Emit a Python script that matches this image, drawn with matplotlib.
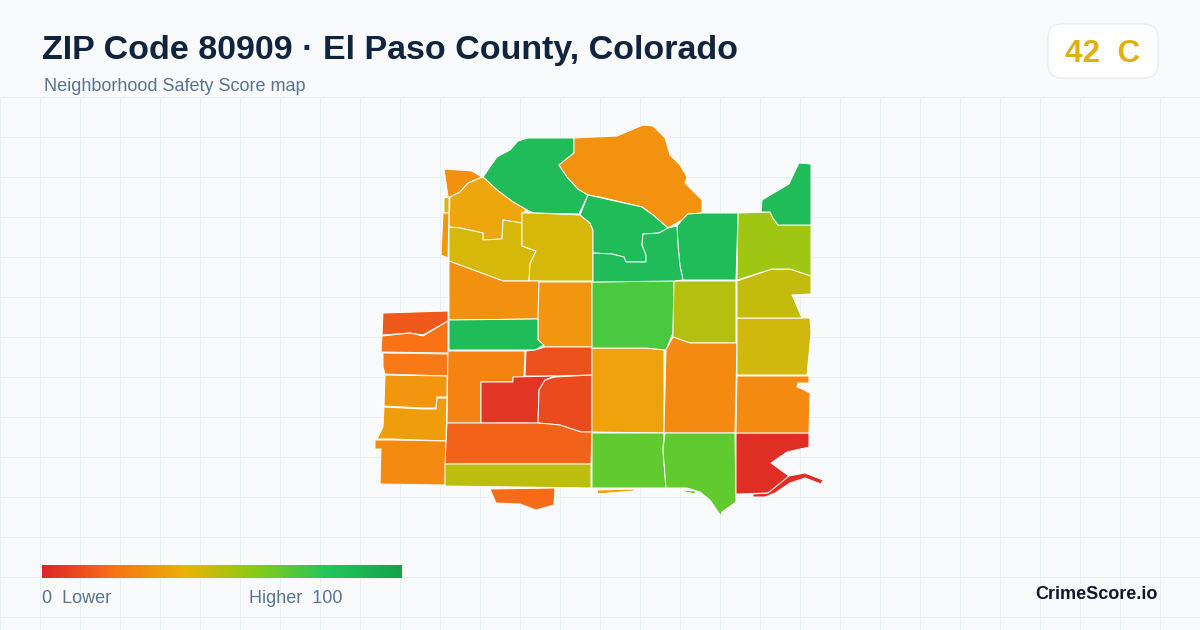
import numpy as np
import matplotlib
matplotlib.use("Agg")
import matplotlib.pyplot as plt
from matplotlib.colors import LinearSegmentedColormap
from matplotlib.patches import Polygon, FancyBboxPatch

plt.rcParams['font.family'] = ['Liberation Sans', 'DejaVu Sans']

TITLE = "ZIP Code 80909 · El Paso County, Colorado"
SUBTITLE = "Neighborhood Safety Score map"
BADGE = "42  C"
BRAND = "CrimeScore.io"
LEGEND_LOW = "0  Lower"
LEGEND_HIGH = "Higher  100"

RAMP_STOPS = [0.0, 0.2, 0.4, 0.6, 0.8, 1.0]
RAMP_COLORS = ["#dc2626", "#f97316", "#eab308", "#84cc16", "#22c55e", "#16a34a"]

# Neighbourhood safety scores
SCORES = {
    "a": 85, "b": 30, "c": 29, "d": 36, "e": 44, "f": 31, "g": 44, "h": 44, "i": 29,
    "j": 31, "k": 85, "l": 13.5, "m": 20, "n": 22, "o": 31, "p": 33, "q": 27, "r": 25,
    "s": 11, "t": 4, "u": 9.5, "v": 16, "w": 49, "x": 18, "y": 35, "z": 71.5, "aa": 50.5,
    "ab": 27, "ac": 67, "ad": 67, "ae": 2.6, "af": 2.6, "ag": 35, "ah": 67, "ai": 27,
    "aj": 45, "ak": 47.5, "al": 55, "am": 85, "an": 85, "ao": 85, "ap": 85,
}

# Neighbourhood outlines (x, y in image pixels)
OUTLINES = {
    "a": [(483,177),(497,157),(510,150),(518,141),(528,138),(574,138),(574,153),(559,165),(567,177),(578,189),(588,195),(579,214),(533,213),(527,210),(513,202),(497,190)],
    "b": [(574,138),(617,136),(643,125),(653,126),(665,138),(670,155),(680,165),(687,177),(685,183),(702,200),(702,213),(688,214),(682,220),(668,228),(653,215),(642,207),(600,197),(588,195),(578,189),(567,177),(559,165),(574,153)],
    "c": [(444,169),(472,171),(482,177),(468,183),(460,192),(450,197),(448,197)],
    "d": [(450,197),(460,192),(468,183),(483,177),(497,190),(513,202),(527,210),(522,213),(522,223),(503,220),(502,239),(483,240),(483,233),(460,228),(449,227)],
    "e": [(444,198),(449,197),(449,213),(444,213)],
    "f": [(443,213),(449,213),(448,258),(441,255)],
    "g": [(449,227),(460,228),(483,233),(483,240),(502,239),(503,220),(522,223),(522,246),(536,251),(530,264),(529,281),(503,281),(449,261)],
    "h": [(522,213),(533,213),(580,215),(590,223),(593,230),(593,281),(529,281),(530,264),(536,251),(522,246)],
    "i": [(449,261),(503,281),(539,281),(538,319),(449,320)],
    "j": [(539,282),(592,282),(592,347),(545,347),(538,340),(538,319)],
    "k": [(449,320),(538,319),(538,340),(544,345),(535,350),(449,350)],
    "l": [(383,313),(448,311),(448,321),(423,335),(410,333),(382,335)],
    "m": [(382,336),(410,333),(423,336),(448,321),(448,353),(381,352)],
    "n": [(383,353),(448,354),(448,376),(385,374),(383,367)],
    "o": [(385,375),(447,376),(447,397),(437,397),(436,408),(423,408),(384,406)],
    "p": [(384,407),(423,409),(436,409),(437,398),(447,398),(446,441),(392,439),(377,439),(383,427)],
    "q": [(375,440),(392,440),(446,441),(445,485),(380,484),(381,449),(375,449)],
    "r": [(448,351),(525,351),(524,378),(513,378),(513,382),(481,382),(481,423),(447,423)],
    "s": [(526,351),(535,350),(545,347),(592,347),(592,375),(555,376),(525,376)],
    "t": [(481,382),(513,382),(513,377),(555,376),(545,380),(539,390),(538,423),(481,423)],
    "u": [(539,390),(545,380),(555,377),(592,375),(592,432),(581,432),(560,425),(538,423)],
    "v": [(447,423),(538,423),(560,425),(581,432),(592,432),(591,464),(445,464)],
    "w": [(445,464),(591,464),(591,488),(445,486)],
    "x": [(490,489),(555,488),(554,505),(536,510),(520,504),(496,503)],
    "y": [(592,348),(646,348),(664,350),(664,433),(592,432)],
    "z": [(592,282),(674,281),(673,333),(666,350),(646,348),(592,348)],
    "aa": [(674,281),(736,281),(736,343),(690,343),(673,337),(673,333)],
    "ab": [(673,337),(690,343),(737,343),(735,433),(664,433),(666,350)],
    "ac": [(592,433),(664,433),(663,450),(666,488),(592,488)],
    "ad": [(665,433),(735,433),(736,502),(722,512),(721,516),(710,500),(700,492),(687,488),(666,488),(663,450)],
    "ae": [(736,433),(809,433),(809,447),(787,452),(771,463),(789,476),(780,485),(768,493),(736,494)],
    "af": [(753,494),(768,493),(789,476),(805,473),(823,480),(821,484),(805,478),(790,483),(775,493),(765,497),(753,497)],
    "ag": [(597,490),(635,489),(633,491),(598,494)],
    "ah": [(680,490),(695,491),(696,494),(685,492)],
    "ai": [(737,376),(809,376),(809,383),(798,383),(797,387),(802,389),(810,393),(809,433),(736,433)],
    "aj": [(737,318),(810,318),(811,333),(807,375),(737,375)],
    "ak": [(737,281),(772,269),(790,269),(811,276),(811,294),(792,295),(802,318),(737,318)],
    "al": [(738,213),(770,212),(773,218),(778,225),(811,225),(811,276),(790,269),(772,269),(737,280)],
    "am": [(762,200),(789,184),(799,163),(811,164),(811,225),(778,225),(773,218),(770,212),(761,212)],
    "an": [(702,213),(738,213),(736,280),(683,280),(680,266),(678,245),(677,226),(682,220),(688,214)],
    "ao": [(588,195),(642,207),(653,215),(668,228),(659,233),(643,234),(642,245),(646,255),(646,262),(626,262),(624,257),(612,254),(593,253),(593,230),(590,223),(580,215)],
    "ap": [(593,253),(612,254),(624,257),(626,262),(646,262),(646,255),(642,245),(643,234),(659,233),(668,228),(677,226),(678,245),(680,266),(683,280),(674,281),(593,282)],
}

BG = "#f8fafc"
GRID = "#e9f0f4"
cmap = LinearSegmentedColormap.from_list("score", list(zip(RAMP_STOPS, RAMP_COLORS)))

fig = plt.figure(figsize=(12, 6.3), dpi=100, facecolor=BG)
ax = fig.add_axes([0, 0, 1, 1])
ax.set_facecolor(BG)
ax.axis("off")

# Background grid below the header
for x in np.arange(0, 1200, 40):
    ax.plot([x, x], [97, 630], color=GRID, lw=0.72, zorder=1, solid_capstyle="butt")
for y in np.arange(97, 630, 40):
    ax.plot([0, 1200], [y, y], color=GRID, lw=0.72, zorder=1, solid_capstyle="butt")

# Map
for key, outline in OUTLINES.items():
    ax.add_patch(Polygon(outline, closed=True, facecolor=cmap(SCORES[key] / 100),
                         edgecolor="white", lw=0.7, joinstyle="round", zorder=3))

# Header
ax.text(42, 59, TITLE, fontsize=24.5, fontweight="bold", color="#10243e", va="baseline", ha="left", zorder=5)
ax.text(44, 91, SUBTITLE, fontsize=12.95, color="#5b7290", va="baseline", ha="left", zorder=5)

# Badge
ax.add_patch(FancyBboxPatch((1062, 38), 82, 26, boxstyle="round,pad=14,rounding_size=14",
                            facecolor="white", edgecolor="#e2e8f0", lw=0.72, zorder=4))
ax.text(1065, 62, BADGE, fontsize=22.7, fontweight="bold", color="#e0b00f", va="baseline", ha="left", zorder=5)

# Legend
ramp = np.linspace(0, 1, 360).reshape(1, -1)
ax.imshow(ramp, cmap=cmap, vmin=0, vmax=1, extent=(42, 402, 578, 565), aspect="auto",
          interpolation="bilinear", zorder=4)
ax.text(42, 603, LEGEND_LOW, fontsize=12.95, color="#5b7290", va="baseline", ha="left", zorder=5)
ax.text(249, 603, LEGEND_HIGH, fontsize=12.95, color="#5b7290", va="baseline", ha="left", zorder=5)
ax.text(1158, 599, BRAND, fontsize=13, fontweight="bold", color="#0f172a", va="baseline", ha="right", zorder=5)

ax.set_xlim(0, 1200)
ax.set_ylim(630, 0)
fig.savefig("out.png", dpi=100, facecolor=BG)
